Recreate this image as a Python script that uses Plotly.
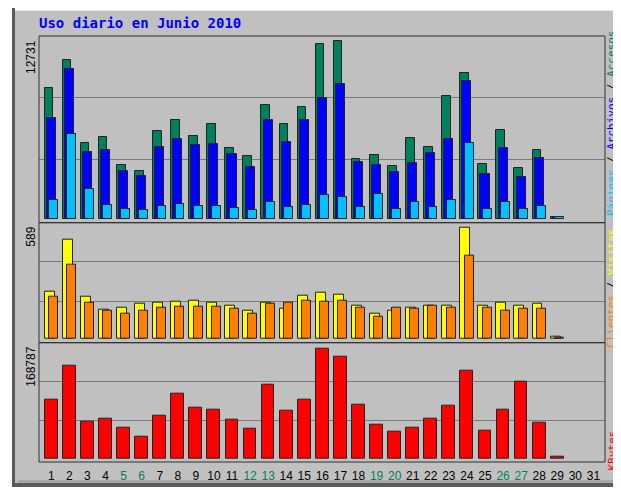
import plotly.graph_objects as go

# ---------------- data ----------------
days = list(range(1, 32))
weekend_days = [5, 6, 12, 13, 19, 20, 26, 27]

accesos = [9369, 11350, 5393, 5843, 3862, 3411, 6272, 7059, 5936, 6773, 5078, 4463,
           8153, 6773, 7989, 12494, 12731, 4270, 4556, 3769, 5772, 5149, 8776, 10420,
           3934, 6344, 3605, 4892, 150]
archivos = [7224, 10685, 4792, 4892, 3411, 3075, 5128, 5679, 5250, 5343, 4649, 3698,
            7059, 5486, 7059, 8611, 9634, 4034, 3862, 3340, 3962, 4720, 5679, 9827,
            3175, 5056, 3004, 4363, 120]
paginas = [1337, 6058, 2103, 980, 715, 644, 887, 1073, 887, 887, 787, 644,
           1173, 815, 980, 1674, 1573, 815, 1767, 715, 1173, 815, 1337, 5436,
           715, 1173, 715, 887, 90]
visitas = [250, 524, 224, 153, 166, 185, 190, 197, 205, 190, 178, 148,
           190, 162, 229, 243, 236, 178, 132, 148, 168, 175, 175, 589,
           178, 190, 178, 187, 10]
clientes = [224, 391, 192, 148, 134, 148, 168, 173, 173, 173, 162, 136,
            185, 192, 205, 199, 205, 168, 116, 168, 162, 178, 168, 441,
            168, 148, 162, 160, 8]
kbytes = [89750, 142800, 56100, 61770, 46940, 34250, 65750, 98920, 78590, 74920, 60240, 45410,
          113750, 72930, 89750, 168787, 155950, 82100, 52600, 41280, 46940, 61770, 80580, 134100,
          43420, 74920, 117270, 54580, 3000]

title_text = "Uso diario en Junio 2010"

C_ACC = "#00805c"
C_ARC = "#0000ff"
C_PAG = "#00c0ff"
C_VIS = "#ffff00"
C_CLI = "#ff8000"
C_KB = "#ff0000"
C_WEEKEND = "#00805c"
BG = "#c0c0c0"
OUTLINE = "#222222"

# the page body has an 8px margin: the figure starts at (8, 8) in the window
OFF = 8
W, H = 621 - OFF, 491 - OFF


def px(x):
    return (x - OFF) / W


def py(y):
    return 1 - (y - OFF) / H


fig = go.Figure()


def bar(xs, ys, color, name, off, wid, xa, ya):
    fig.add_trace(go.Bar(
        x=xs[:len(ys)], y=ys, name=name, offset=off, width=wid,
        marker=dict(color=color, line=dict(color=OUTLINE, width=1)),
        xaxis=xa, yaxis=ya, showlegend=False, hoverinfo="x+y"))


bar(days, accesos, C_ACC, "Accesos", -0.37, 0.48, "x", "y")
bar(days, archivos, C_ARC, "Archivos", -0.25, 0.50, "x", "y")
bar(days, paginas, C_PAG, "Páginas", -0.12, 0.49, "x", "y")
bar(days, visitas, C_VIS, "Visitas", -0.37, 0.55, "x2", "y2")
bar(days, clientes, C_CLI, "Clientes", -0.13, 0.50, "x2", "y2")
bar(days, kbytes, C_KB, "KBytes", -0.36, 0.71, "x3", "y3")

# panel pixel geometry (window pixels)
xl, xr = 39, 605
panels = [  # (top, bottom, baseline, max pixel)
    (36, 222.7, 218.7, 40.7),
    (222.7, 342.7, 339.0, 227.7),
    (342.7, 462.0, 458.7, 348.3),
]
series_max = [max(accesos), max(visitas), max(kbytes)]

xrange_ = [0.32, 31.64]
ticktext = []
for d in days:
    if d in weekend_days:
        ticktext.append(f"<span style='color:{C_WEEKEND}'>{d}</span>")
    else:
        ticktext.append(str(d))

layout = dict(
    width=W, height=H,
    margin=dict(l=0, r=0, t=0, b=0),
    paper_bgcolor="white",
    plot_bgcolor=BG,
    barmode="overlay",
    bargap=0,
    showlegend=False,
    font=dict(family="Liberation Sans, Arial, sans-serif", size=12, color="black"),
)

for i, (top, bot, base, mpx) in enumerate(panels):
    m = series_max[i]
    scale = m / (base - mpx)
    ymax = (base - top) * scale
    ymin = -(bot - base) * scale
    sfx = "" if i == 0 else str(i + 1)
    layout["yaxis" + sfx] = dict(
        domain=[py(bot), py(top)], range=[ymin, ymax], anchor="x" + sfx,
        tickvals=[0.335 * ymax / 1.03, 0.685 * ymax / 1.03], showticklabels=False,
        showgrid=True, gridcolor="#7a7a7a", gridwidth=1, zeroline=False,
        showline=False, ticks="", fixedrange=True)
    xa = dict(domain=[px(xl), px(xr)], range=xrange_, anchor="y" + sfx,
              showgrid=False, zeroline=False, showline=False, fixedrange=True)
    if i == 2:
        xa.update(tickmode="array", tickvals=days, ticktext=ticktext,
                  ticks="outside", ticklen=3, tickcolor="rgba(0,0,0,0)",
                  tickfont=dict(family="Liberation Sans, Arial, sans-serif", size=12, color="black"))
    else:
        xa.update(showticklabels=False, matches="x3")
    layout["xaxis" + sfx] = xa

fig.update_layout(**layout)

shapes = []
# outer grey panel + 3D borders
shapes.append(dict(type="rect", xref="paper", yref="paper", x0=px(15), x1=px(621), y0=py(483), y1=py(10),
                   fillcolor=BG, line=dict(width=0), layer="below"))
shapes.append(dict(type="rect", xref="paper", yref="paper", x0=px(15), x1=px(621), y0=py(11), y1=py(10),
                   fillcolor="#e4e4e4", line=dict(width=0), layer="below"))
shapes.append(dict(type="rect", xref="paper", yref="paper", x0=px(12), x1=px(15), y0=py(487), y1=py(8),
                   fillcolor="#5a5a5a", line=dict(width=0), layer="below"))
shapes.append(dict(type="rect", xref="paper", yref="paper", x0=px(12), x1=px(621), y0=py(487), y1=py(483),
                   fillcolor="#5a5a5a", line=dict(width=0), layer="below"))
shapes.append(dict(type="rect", xref="paper", yref="paper", x0=px(18), x1=px(621), y0=py(483), y1=py(480),
                   fillcolor="#a8a8a8", line=dict(width=0), layer="below"))
# panel frames
for (top, bot, base, mpx) in panels:
    shapes.append(dict(type="rect", xref="paper", yref="paper", x0=px(xl), x1=px(xr),
                       y0=py(bot), y1=py(top), line=dict(color="#303030", width=1),
                       fillcolor="rgba(0,0,0,0)", layer="above"))
fig.update_layout(shapes=shapes)

ann = []
ann.append(dict(text=f"<b>{title_text}</b>", xref="paper", yref="paper", x=px(37), y=py(23),
                xanchor="left", yanchor="middle", showarrow=False,
                font=dict(family="DejaVu Sans Mono, monospace", size=14, color="#0000ff")))
for i, (top, bot, base, mpx) in enumerate(panels):
    ann.append(dict(text=str(series_max[i]), xref="paper", yref="paper", x=px(31), y=py(top + 2),
                    xanchor="center", yanchor="top", textangle=-90, showarrow=False,
                    font=dict(family="Liberation Sans, Arial, sans-serif", size=12, color="black")))

right_font = dict(family="DejaVu Sans Mono, monospace", size=11, color="black")
RX = 611.5
ann.append(dict(text=(f"<span style='color:{C_PAG}'>Páginas</span> / "
                      f"<span style='color:{C_ARC}'>Archivos</span> / "
                      f"<span style='color:{C_ACC}'>Accesos</span>"),
                xref="paper", yref="paper", x=px(RX), y=py(218), xanchor="center", yanchor="bottom",
                textangle=-90, showarrow=False, font=right_font))
ann.append(dict(text=(f"<span style='color:{C_CLI}'>Clientes</span> / "
                      f"<span style='color:{C_VIS}'>Visitas</span>"),
                xref="paper", yref="paper", x=px(RX), y=py(350), xanchor="center", yanchor="bottom",
                textangle=-90, showarrow=False, font=right_font))
ann.append(dict(text=f"<span style='color:{C_KB}'>KBytes</span>",
                xref="paper", yref="paper", x=px(RX), y=py(473), xanchor="center", yanchor="bottom",
                textangle=-90, showarrow=False, font=right_font))
fig.update_layout(annotations=ann)

fig.write_html("out.html")
